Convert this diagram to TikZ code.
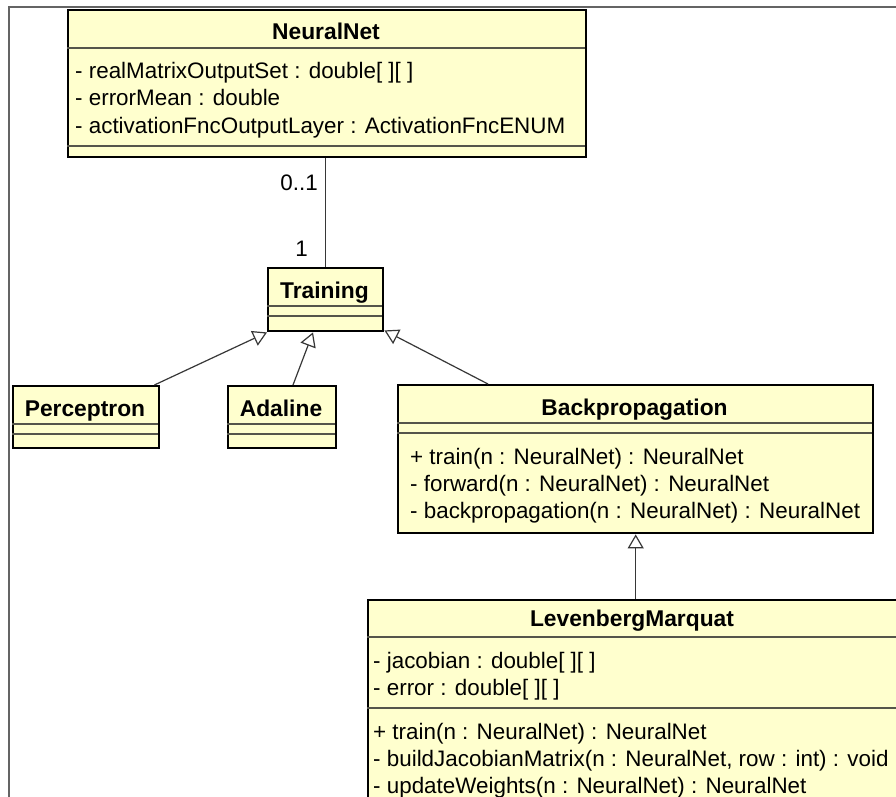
\documentclass[tikz,border=0pt]{standalone}
\usepackage{fontspec}
\setmainfont{Liberation Sans}
\usetikzlibrary{arrows.meta,calc}
\definecolor{clsfill}{RGB}{255,255,206}
\definecolor{sepcol}{RGB}{85,85,75}
\definecolor{linecol}{RGB}{55,55,55}
\definecolor{framecol}{RGB}{100,100,100}
\tikzset{
  cls/.style={draw=black, fill=clsfill, line width=2.4pt, rectangle, inner sep=0pt, anchor=north west},
  sepline/.style={draw=sepcol, line width=1.5pt},
  ttl/.style={font=\fontsize{22.8}{27}\selectfont\bfseries, inner sep=0pt, anchor=base},
  mem/.style={font=\fontsize{22.4}{27}\selectfont, inner sep=0pt, anchor=base west},
  mult/.style={font=\fontsize{22.4}{27}\selectfont, inner sep=0pt, anchor=base east},
  assoc/.style={draw=linecol, line width=1.2pt},
  gen/.style={draw=linecol, line width=1.2pt, -{Triangle[length=14pt, width=16pt, fill=white]}},
  framel/.style={draw=framecol, line width=1.4pt}
}
\begin{document}
\begin{tikzpicture}[x=1pt,y=-1pt]
\useasboundingbox (0,0) rectangle (896,797);
\clip (0,0) rectangle (896,797);
\fill[white] (0,0) rectangle (896,797);
\draw[framel] (9,800) -- (9,7) -- (900,7);

% NeuralNet
\node[cls, minimum width=518pt, minimum height=147pt] (nn) at (67,9) {};
\node[ttl] (nnT) at (326,40) {NeuralNet};
\draw[sepline] (67,48) -- (585,48);
\node[mem] (nn1) at (75,79) {- realMatrixOutputSet : double[ ][ ]};
\node[mem] (nn2) at (75,106) {- errorMean : double};
\node[mem] (nn3) at (75,133) {- activationFncOutputLayer : ActivationFncENUM};
\draw[sepline] (67,146) -- (585,146);

% Training
\node[cls, minimum width=115pt, minimum height=63pt] (tr) at (267,267) {};
\node[ttl] (trT) at (324.5,298) {Training};
\draw[sepline] (267,306) -- (382,306);
\draw[sepline] (267,316) -- (382,316);

% Perceptron
\node[cls, minimum width=146pt, minimum height=62pt] (pe) at (12,385) {};
\node[ttl] (peT) at (85,416) {Perceptron};
\draw[sepline] (12,424) -- (158,424);
\draw[sepline] (12,434) -- (158,434);

% Adaline
\node[cls, minimum width=108pt, minimum height=62pt] (ad) at (227,385) {};
\node[ttl] (adT) at (281,416) {Adaline};
\draw[sepline] (227,424) -- (335,424);
\draw[sepline] (227,434) -- (335,434);

% Backpropagation
\node[cls, minimum width=475pt, minimum height=148pt] (bp) at (397,384) {};
\node[ttl] (bpT) at (634.5,415) {Backpropagation};
\draw[sepline] (397,423) -- (872,423);
\draw[sepline] (397,433) -- (872,433);
\node[mem] (bp1) at (410,464) {+ train(n : NeuralNet) : NeuralNet};
\node[mem] (bp2) at (410,491) {- forward(n : NeuralNet) : NeuralNet};
\node[mem] (bp3) at (410,518) {- backpropagation(n : NeuralNet) : NeuralNet};

% LevenbergMarquat
\node[cls, minimum width=545pt, minimum height=215pt] (lm) at (367,599) {};
\node[ttl] (lmT) at (632,626) {LevenbergMarquat};
\draw[sepline] (367,637) -- (912,637);
\node[mem] (lm1) at (373,668) {- jacobian : double[ ][ ]};
\node[mem] (lm2) at (373,695) {- error : double[ ][ ]};
\draw[sepline] (367,708) -- (912,708);
\node[mem] (lm3) at (373,739) {+ train(n : NeuralNet) : NeuralNet};
\node[mem] (lm4) at (373,766) {- buildJacobianMatrix(n : NeuralNet, row : int) : void};
\node[mem] (lm5) at (373,793) {- updateWeights(n : NeuralNet) : NeuralNet};

% connectors
\draw[assoc] (tr.north |- nn.south) -- (tr.north);
\node[mult] (m01) at (318,190) {0..1};
\node[mult] (m1) at (308,256) {1};

\draw[gen] ($(pe.north east)+(-6,0)$) -- (tr.south west);
\draw[gen] ($(ad.north west)+(66,0)$) -- ($(tr.south west)+(46,0)$);
\draw[gen] ($(bp.north west)+(91,0)$) -- ($(tr.south east)+(0,-2)$);
\draw[gen] (lm.north -| bp.south) coordinate (lmtop) -- (bp.south);
\end{tikzpicture}
\end{document}
